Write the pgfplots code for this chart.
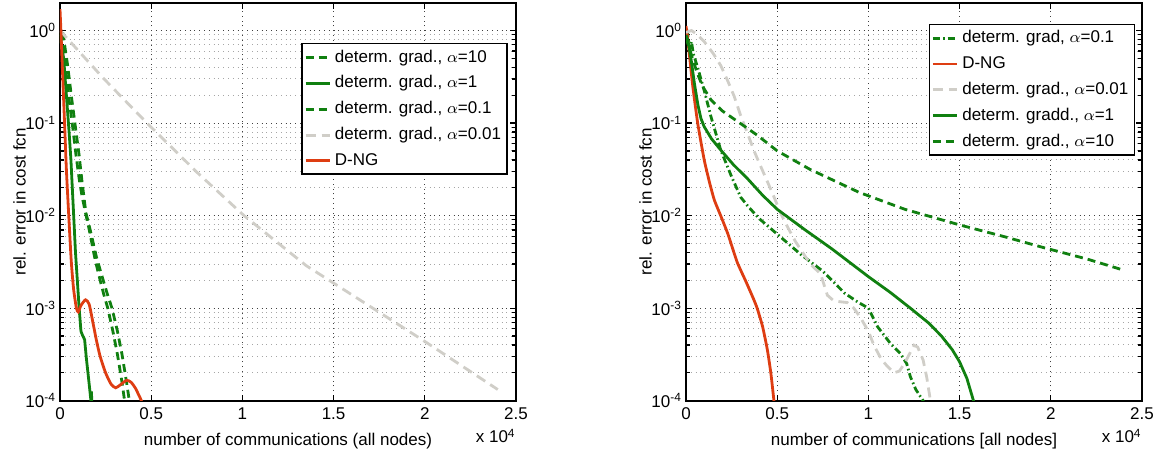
\documentclass[border=0pt]{standalone}
\usepackage{pgfplots}
\pgfplotsset{compat=1.18}
\usepackage{fontspec}
\setmainfont{Liberation Sans}

\definecolor{mgreen}{RGB}{16,128,16}
\definecolor{mred}{RGB}{222,61,18}
\definecolor{mgray}{RGB}{208,206,200}

\newcommand{\fs}{\fontsize{8.5}{10}\selectfont}

\tikzset{
  dgreen/.style={mgreen, line width=1.4pt, dash pattern=on 4pt off 2.5pt},
  sgreen/.style={mgreen, line width=1.4pt},
  ddgreen/.style={mgreen, line width=1.4pt, dash pattern=on 3.5pt off 1.5pt on 0.8pt off 1.5pt},
  dgray/.style={mgray, line width=1.4pt, dash pattern=on 5pt off 3pt},
  sred/.style={mred, line width=1.4pt},
}
\pgfplotsset{
  legend image code/.code={\draw[#1] (0pt,0pt) -- (12pt,0pt);},
  every axis/.append style={
    scale only axis, width=228pt, height=199pt,
    xmin=0, xmax=2.5, ymin=1e-4, ymax=2,
    xtick={0,0.5,1,1.5,2,2.5}, xticklabels={0,0.5,1,1.5,2,2.5},
    ytick={1e-4,1e-3,1e-2,1e-1,1},
    yticklabels={10\textsuperscript{-4},10\textsuperscript{-3},10\textsuperscript{-2},10\textsuperscript{-1},10\textsuperscript{0}},
    xmajorgrids, ymajorgrids, yminorgrids,
    major grid style={dotted, black!75, line width=0.5pt},
    minor grid style={dotted, black!35, line width=0.5pt},
    tick align=inside, major tick length=3pt, minor tick length=1.8pt,
    every tick/.style={black, line width=0.6pt},
    axis line style={line width=0.9pt},
    tick label style={font=\fs},
    yticklabel style={xshift=1.5pt},
    label style={font=\fs},
    ylabel={rel. error in cost fcn},
    ylabel shift=-7pt,
    legend style={font=\fs, draw=black, line width=0.8pt, fill=white,
      cells={anchor=west}, inner xsep=1pt, inner ysep=1pt, row sep=1.3pt},
  },
}

\begin{document}
\begin{tikzpicture}
\useasboundingbox (-30pt,-26.15pt) rectangle (550pt,200.35pt);

% ---------- left panel ----------
\begin{semilogyaxis}[name=lpanel, at={(0,0)}, anchor=south west,
  xlabel={number of communications (all nodes)},
  legend style={at={(0.982,0.899)}, anchor=north east}]
\addplot[dgreen] coordinates {
 (0.005,0.955) (0.03,0.398) (0.05,0.178) (0.07,0.0891) (0.088,0.0447)
 (0.105,0.0251) (0.12,0.0166) (0.14,0.0107) (0.16,0.00708) (0.19,0.00355)
 (0.21,0.0024) (0.24,0.00141) (0.262,0.001) (0.29,5.62e-4) (0.315,3.16e-4)
 (0.34,1.58e-4) (0.354,1e-4) (0.36,7.9e-5)};
\addlegendentry{determ. grad., $\alpha$=10}
\addplot[sgreen] coordinates {
 (0,0.891) (0.02,0.501) (0.035,0.2) (0.05,0.0794) (0.06,0.0398)
 (0.07,0.0158) (0.075,0.01) (0.085,0.00398) (0.095,0.002) (0.105,0.001)
 (0.115,5.62e-4) (0.125,5.01e-4) (0.135,4.57e-4) (0.145,2.82e-4)
 (0.16,1.51e-4) (0.168,1.07e-4) (0.172,1.26e-4) (0.177,7.9e-5)};
\addlegendentry{determ. grad., $\alpha$=1}
\addplot[dgreen] coordinates {
 (0.015,0.955) (0.04,0.447) (0.065,0.178) (0.085,0.0891) (0.105,0.0447)
 (0.12,0.024) (0.142,0.0107) (0.165,0.00708) (0.2,0.00355) (0.225,0.0024)
 (0.26,0.00141) (0.285,0.001) (0.315,5.62e-4) (0.34,3.16e-4)
 (0.365,1.58e-4) (0.38,1e-4) (0.386,7.9e-5)};
\addlegendentry{determ. grad., $\alpha$=0.1}
\addplot[dgray] coordinates {
 (0,1.0) (0.24,0.302) (0.477,0.1) (0.75,0.0295) (1.009,0.01)
 (1.35,0.00288) (1.715,0.001) (2.0,4.37e-4) (2.4,1.32e-4)};
\addlegendentry{determ. grad., $\alpha$=0.01}
\addplot[sred, smooth, tension=0.4] coordinates {
 (0,1.7) (0.005,1.0) (0.015,0.316) (0.025,0.1) (0.035,0.0316)
 (0.048,0.01) (0.062,0.00316) (0.075,0.00158) (0.09,0.001) (0.1,9.1e-4)
 (0.115,1.07e-3) (0.14,1.23e-3) (0.16,1.10e-3) (0.18,7.08e-4)
 (0.2,4.47e-4) (0.22,3.02e-4) (0.25,2.0e-4) (0.28,1.51e-4)
 (0.305,1.38e-4) (0.33,1.48e-4) (0.365,1.66e-4) (0.39,1.58e-4)
 (0.415,1.35e-4) (0.43,1.17e-4) (0.446,1.0e-4) (0.455,7.9e-5)};
\addlegendentry{D-NG}
\end{semilogyaxis}
\node[anchor=north east, font=\fs, inner sep=0pt] at ([yshift=-14pt]lpanel.south east) {x 10\textsuperscript{4}};

% ---------- right panel ----------
\begin{semilogyaxis}[name=rpanel, at={(313pt,0)}, anchor=south west,
  xlabel={number of communications [all nodes]},
  legend style={at={(0.985,0.947)}, anchor=north east}]
\addplot[ddgreen] coordinates {
 (0,0.794) (0.01,0.891) (0.02,0.631) (0.03,0.759) (0.04,0.562)
 (0.064,0.398) (0.1,0.224) (0.137,0.117) (0.19,0.0513) (0.25,0.0263)
 (0.3,0.0158) (0.34,0.0126) (0.4,0.00933) (0.5,0.00631) (0.63,0.0038)
 (0.75,0.00251) (0.87,0.00145) (0.94,0.00117) (1.0,0.001) (1.05,6.31e-4)
 (1.12,4.17e-4) (1.175,3.24e-4) (1.21,2.51e-4) (1.23,1.82e-4)
 (1.26,1.32e-4) (1.3,1e-4) (1.31,7.9e-5)};
\addlegendentry{determ. grad, $\alpha$=0.1}
\addplot[sred, smooth, tension=0.3] coordinates {
 (0,1.12) (0.01,0.794) (0.018,0.562) (0.037,0.251) (0.064,0.1)
 (0.1,0.0398) (0.13,0.0224) (0.155,0.0148) (0.19,0.01) (0.23,0.00631)
 (0.28,0.00316) (0.33,0.00191) (0.37,0.00126) (0.39,0.001) (0.42,6.31e-4)
 (0.446,3.55e-4) (0.465,2.0e-4) (0.482,1e-4) (0.486,7.9e-5)};
\addlegendentry{D-NG}
\addplot[dgray] coordinates {
 (0,0.955) (0.03,1.0) (0.06,0.912) (0.1,0.759) (0.15,0.562) (0.191,0.417)
 (0.23,0.282) (0.264,0.195) (0.3,0.12) (0.337,0.0776) (0.373,0.0501)
 (0.41,0.0339) (0.45,0.0224) (0.483,0.0158) (0.52,0.0105) (0.556,0.00759)
 (0.6,0.00525) (0.63,0.00427) (0.68,0.00302) (0.738,0.00234)
 (0.775,0.00138) (0.81,0.0012) (0.85,0.00117) (0.884,0.00115)
 (0.92,0.001) (0.956,7.94e-4) (1.0,5.62e-4) (1.03,3.98e-4) (1.07,2.82e-4)
 (1.1,2.4e-4) (1.14,2.0e-4) (1.17,2.09e-4) (1.2,2.57e-4) (1.25,3.98e-4)
 (1.27,3.8e-4) (1.3,2.75e-4) (1.32,1.78e-4) (1.34,1e-4) (1.345,7.9e-5)};
\addlegendentry{determ. grad., $\alpha$=0.01}
\addplot[sgreen] coordinates {
 (0,0.891) (0.01,0.794) (0.027,0.501) (0.046,0.269) (0.065,0.158)
 (0.082,0.112) (0.1,0.0912) (0.14,0.0676) (0.19,0.0513) (0.26,0.0355)
 (0.337,0.0251) (0.42,0.0166) (0.5,0.0117) (0.65,0.00708) (0.8,0.00437)
 (1.0,0.00219) (1.12,0.00148) (1.23,0.001) (1.33,6.92e-4) (1.4,5.01e-4)
 (1.46,3.55e-4) (1.5,2.63e-4) (1.54,1.74e-4) (1.576,1e-4) (1.585,7.9e-5)};
\addlegendentry{determ. gradd., $\alpha$=1}
\addplot[dgreen] coordinates {
 (0,0.832) (0.02,0.631) (0.04,0.468) (0.06,0.355) (0.09,0.251)
 (0.137,0.178) (0.2,0.135) (0.28,0.105) (0.39,0.0741) (0.5,0.0501)
 (0.68,0.0316) (0.95,0.0178) (1.2,0.0117) (1.5,0.00794) (1.75,0.00589)
 (1.95,0.00457) (2.2,0.00339) (2.4,0.00257)};
\addlegendentry{determ. grad., $\alpha$=10}
\end{semilogyaxis}
\node[anchor=north east, font=\fs, inner sep=0pt] at ([yshift=-14pt]rpanel.south east) {x 10\textsuperscript{4}};
\end{tikzpicture}
\end{document}
